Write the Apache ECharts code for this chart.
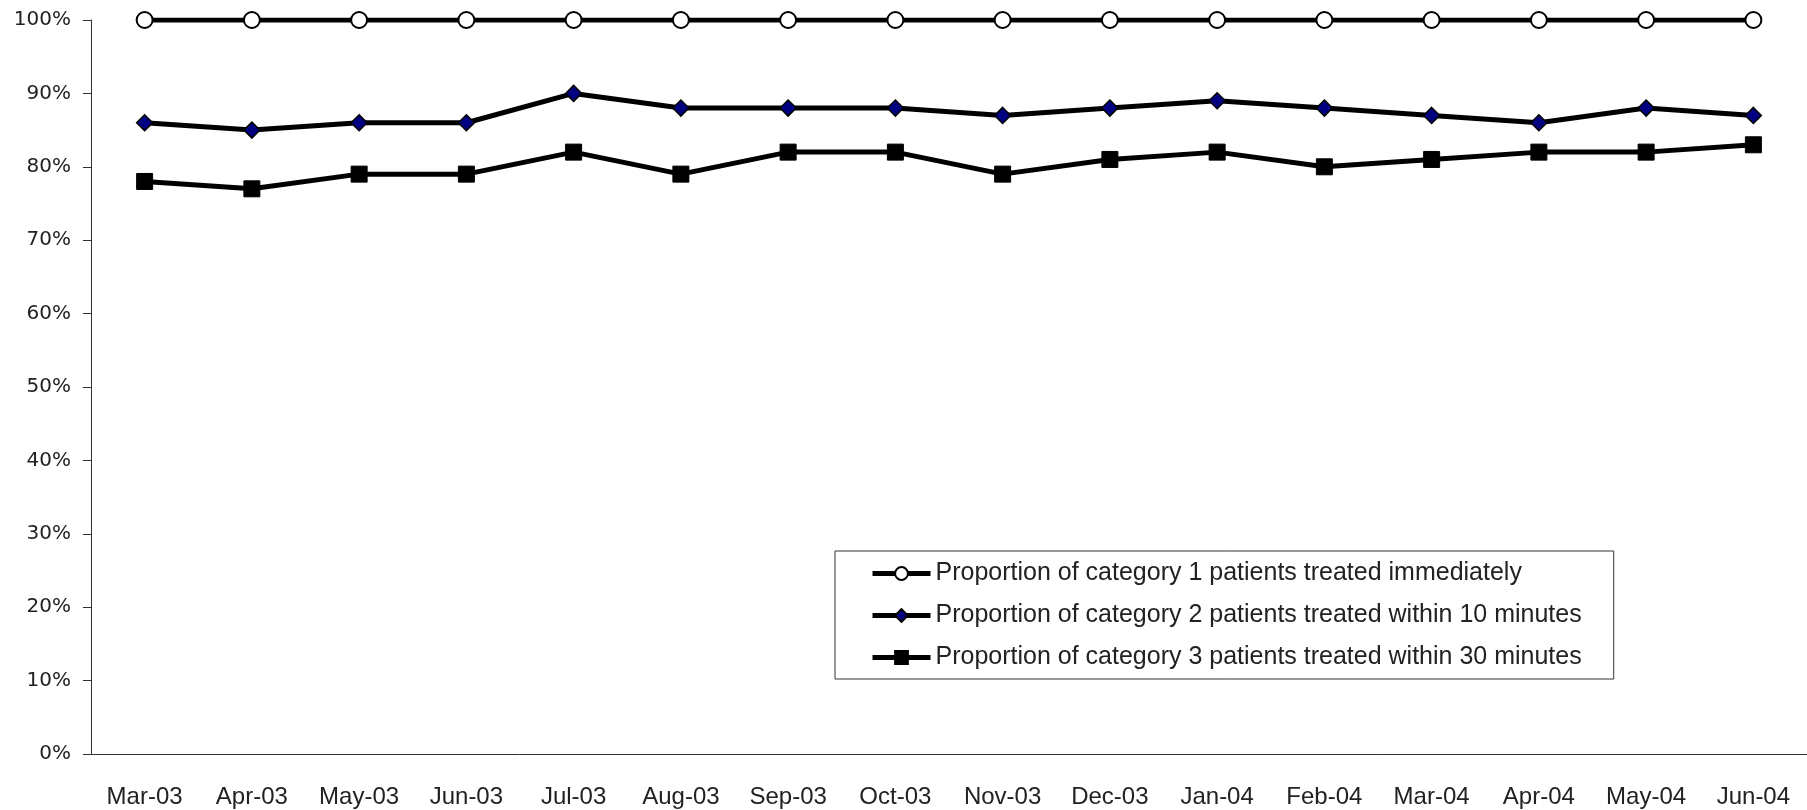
<!DOCTYPE html>
<html>
<head>
<meta charset="utf-8">
<script src="https://cdn.jsdelivr.net/npm/echarts@6/dist/echarts.min.js"></script>
<style>
  html, body { margin: 0; padding: 0; background: #fff; }
  #chart { width: 1807px; height: 810px; }
</style>
</head>
<body>
<div id="chart"></div>
<script>
// months on the x axis
const months = ['Mar-03', 'Apr-03', 'May-03', 'Jun-03', 'Jul-03', 'Aug-03', 'Sep-03', 'Oct-03',
  'Nov-03', 'Dec-03', 'Jan-04', 'Feb-04', 'Mar-04', 'Apr-04', 'May-04', 'Jun-04']
const seriesNames = [
  'Proportion of category 1 patients treated immediately',
  'Proportion of category 2 patients treated within 10 minutes',
  'Proportion of category 3 patients treated within 30 minutes'
]
// percentages
const cat1 = [100, 100, 100, 100, 100, 100, 100, 100, 100, 100, 100, 100, 100, 100, 100, 100]
const cat2 = [86, 85, 86, 86, 90, 88, 88, 88, 87, 88, 89, 88, 87, 86, 88, 87]
const cat3 = [78, 77, 79, 79, 82, 79, 82, 82, 79, 81, 82, 80, 81, 82, 82, 83]

let myChart = echarts.init(document.getElementById('chart'))
const font = '"Liberation Sans", Arial, sans-serif'
const lineStyle = { color: '#000', width: 5 }

myChart.setOption({
  animation: false,
  textStyle: { fontFamily: font, color: '#222' },
  grid: { left: 91, top: 20, width: 1720, height: 734 },
  legend: {
    orient: 'vertical',
    left: 835,
    top: 551,
    padding: [10, 32, 9, 35],
    itemGap: 17,
    itemWidth: 58,
    itemHeight: 16,
    borderColor: '#333',
    borderWidth: 1,
    lineStyle: { width: 5, color: '#000' },
    textStyle: { fontSize: 25, color: '#222', fontFamily: font },
    data: seriesNames
  },
  xAxis: {
    type: 'category',
    data: months,
    boundaryGap: true,
    axisLine: { lineStyle: { color: '#333', width: 1 } },
    axisTick: { length: 8, lineStyle: { color: '#333' } },
    axisLabel: { fontSize: 24, margin: 31, color: '#222', interval: 0 }
  },
  yAxis: {
    type: 'value',
    min: 0,
    max: 100,
    interval: 10,
    splitLine: { show: false },
    axisLine: { show: true, lineStyle: { color: '#333', width: 1 } },
    axisTick: { show: true, length: 8, lineStyle: { color: '#333' } },
    axisLabel: { fontSize: 20, margin: 20, color: '#222', fontFamily: '"DejaVu Sans", sans-serif', formatter: '{value}%' }
  },
  series: [
    {
      name: seriesNames[0],
      type: 'line',
      data: cat1,
      symbol: 'circle',
      symbolSize: 16,
      lineStyle,
      itemStyle: { color: '#fff', borderColor: '#000', borderWidth: 2 }
    },
    {
      name: seriesNames[1],
      type: 'line',
      data: cat2,
      symbol: 'diamond',
      symbolSize: 16,
      lineStyle,
      itemStyle: { color: '#000080', borderColor: '#000', borderWidth: 1.5 }
    },
    {
      name: seriesNames[2],
      type: 'line',
      data: cat3,
      symbol: 'rect',
      symbolSize: 16,
      lineStyle,
      itemStyle: { color: '#000', borderColor: '#000', borderWidth: 1 }
    }
  ]
})
</script>
</body>
</html>
